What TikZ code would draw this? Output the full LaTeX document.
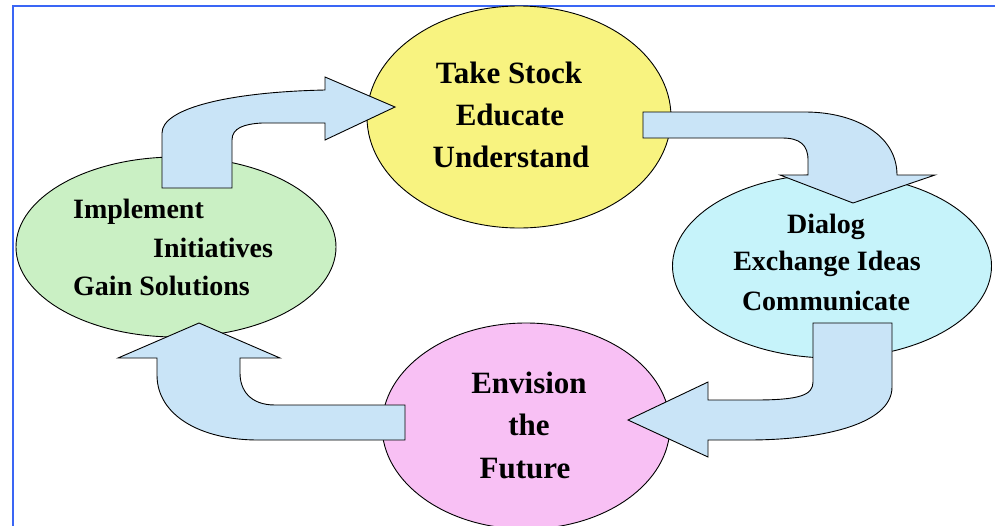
\documentclass[tikz,border=0pt]{standalone}
\usepackage{fontspec}
\setmainfont{Liberation Serif}
\usetikzlibrary{shapes.geometric}
\definecolor{frameblue}{RGB}{58,102,245}
\definecolor{cyellow}{RGB}{248,243,128}
\definecolor{cgreen}{RGB}{202,240,196}
\definecolor{ccyan}{RGB}{198,243,250}
\definecolor{cpink}{RGB}{248,192,244}
\definecolor{carrow}{RGB}{201,228,247}
\begin{document}
\begin{tikzpicture}[x=1pt,y=-1pt,
  oval/.style={ellipse,draw=black,line width=0.9pt,inner sep=0pt},
  bigtxt/.style={font=\bfseries\fontsize{31}{31}\selectfont,inner sep=0pt},
  smalltxt/.style={font=\bfseries\fontsize{28}{28}\selectfont,inner sep=0pt},
  blockarrow/.style={draw=black,fill=carrow,line width=0.9pt,line join=miter}]
\useasboundingbox (0,0) rectangle (995,525);
\fill[white] (0,0) rectangle (995,525);
\draw[frameblue,line width=2pt] (13,526) -- (13,6) -- (996,6);
% ellipses
\node[oval,fill=cyellow,minimum width=304pt,minimum height=222pt] (stock) at (519,117) {};
\node[oval,fill=cgreen,minimum width=320pt,minimum height=180pt] (impl) at (176,247) {};
\node[oval,fill=ccyan,minimum width=319pt,minimum height=184pt] (dialog) at (832,266) {};
\node[oval,fill=cpink,minimum width=288pt,minimum height=206pt] (env) at (526,426) {};
% texts
\node[bigtxt,anchor=base] (t1) at (509,83) {Take Stock};
\node[bigtxt,anchor=base] (t2) at (510,125) {Educate};
\node[bigtxt,anchor=base] (t3) at (511,167) {Understand};
\node[smalltxt,anchor=base west] (g1) at (73,218) {Implement};
\node[smalltxt,anchor=base west] (g2) at (153,257) {Initiatives};
\node[smalltxt,anchor=base west] (g3) at (73,295) {Gain Solutions};
\node[smalltxt,anchor=base] (d1) at (826,233) {Dialog};
\node[smalltxt,anchor=base] (d2) at (827,270) {Exchange Ideas};
\node[smalltxt,anchor=base] (d3) at (826,310) {Communicate};
\node[bigtxt,anchor=base] (e1) at (529,393) {Envision};
\node[bigtxt,anchor=base] (e2) at (529,435) {the};
\node[bigtxt,anchor=base] (e3) at (525,478) {Future};
% arrows
\draw[blockarrow] (162,188) -- (162,133) .. controls (162,108) and (230,92) .. (325,90)
  -- (325,77) -- (395,107) -- (325,140) -- (325,123) -- (262,123)
  .. controls (244,124) and (232,128) .. (232,140) -- (232,188) -- cycle;
\draw[blockarrow] (643,112) -- (805,112) .. controls (855,112) and (897,135) .. (897,175)
  -- (935,175) -- (853,203) -- (780,175) -- (808,175) -- (808,160)
  .. controls (808,145) and (800,138) .. (782,138) -- (643,138) -- cycle;
\draw[blockarrow] (813,323) -- (892,323) -- (892,387) .. controls (892,425) and (820,440) .. (748,440)
  -- (708,440) -- (708,457) -- (628,420) -- (708,382) -- (708,400) -- (755,400)
  .. controls (800,400) and (813,395) .. (813,382) -- cycle;
\draw[blockarrow] (405,405) -- (275,405) .. controls (250,405) and (240,390) .. (240,373)
  -- (240,358) -- (280,358) -- (199,323) -- (118,358) -- (157,358) -- (157,375)
  .. controls (157,415) and (200,440) .. (258,440) -- (405,440) -- cycle;
\end{tikzpicture}
\end{document}
